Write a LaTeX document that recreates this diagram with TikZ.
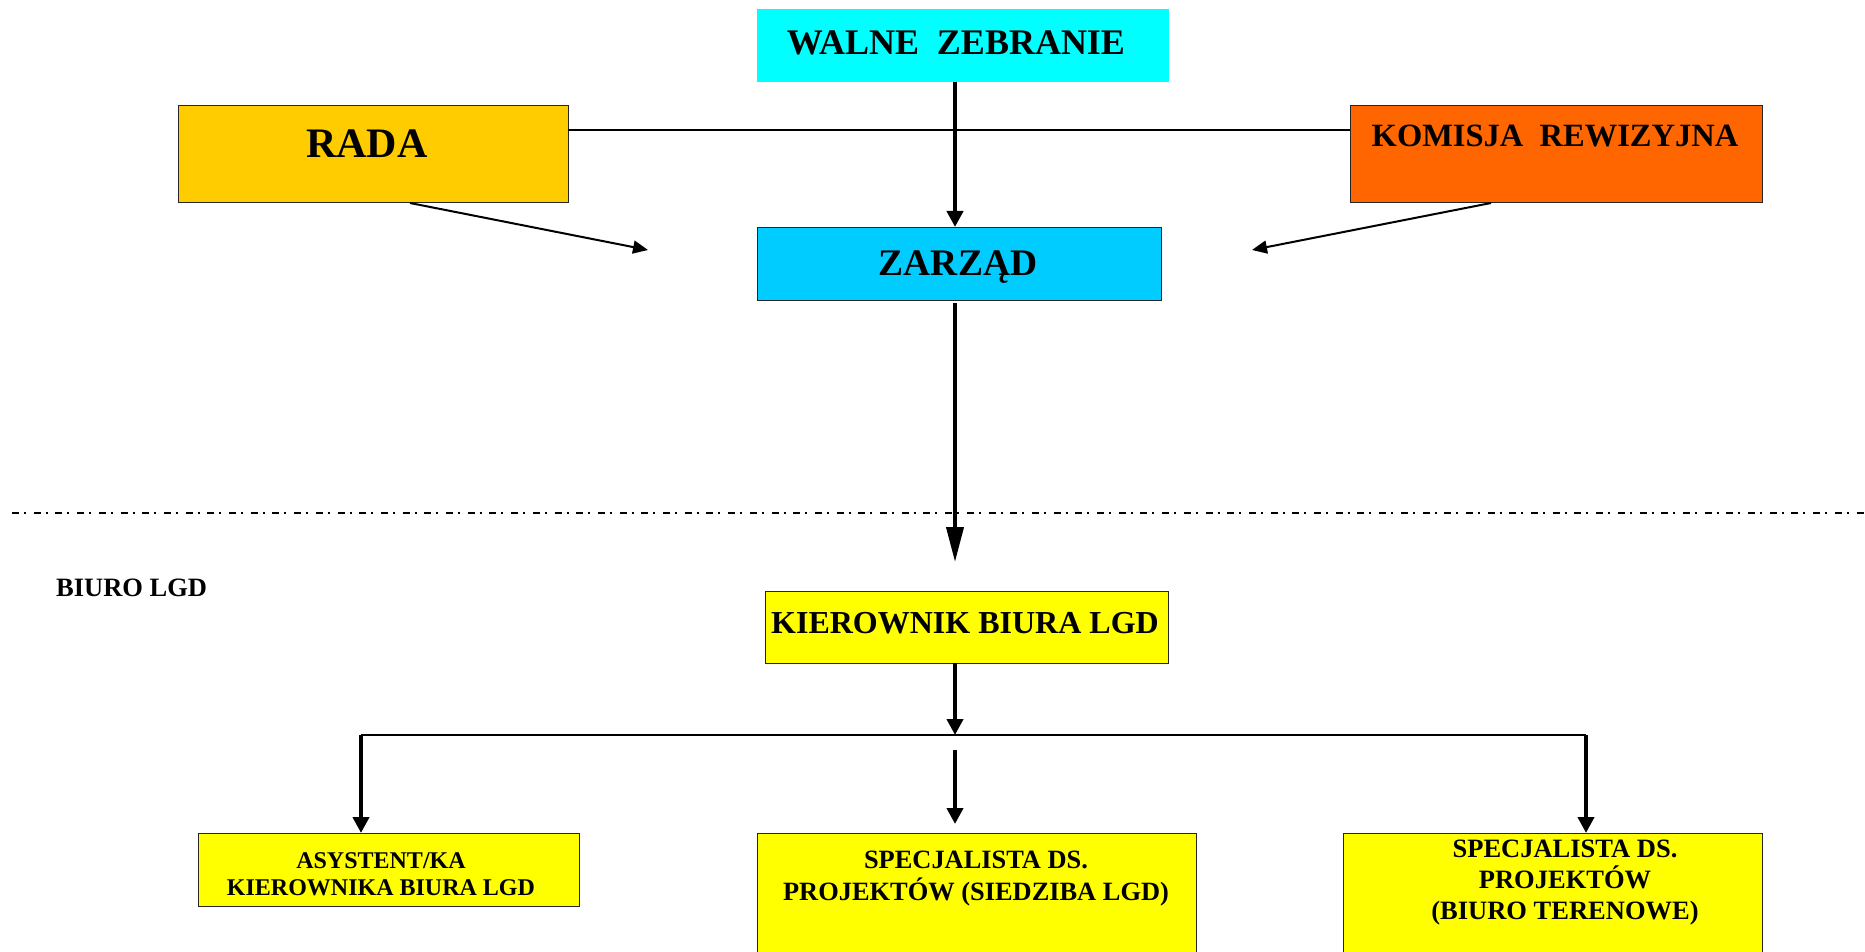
\documentclass[tikz,border=0pt]{standalone}
\usepackage{fontspec}
\setmainfont{Liberation Serif}
\usetikzlibrary{arrows.meta}
\definecolor{walnec}{HTML}{00FFFF}
\definecolor{zarzadc}{HTML}{00CCFF}
\definecolor{radac}{HTML}{FFCC00}
\definecolor{komisjac}{HTML}{FF6600}
\definecolor{biuroc}{HTML}{FFFF00}
\begin{document}
\begin{tikzpicture}[x=1pt,y=-1pt,
  box/.style={draw=black!85, line width=1pt, inner sep=0pt, outer sep=0pt, rectangle},
  lbl/.style={inner sep=0pt, anchor=base, text=black},
  thickarr/.style={line width=4pt, -{Triangle[length=16pt,width=16pt]}},
  longarr/.style={line width=4pt, -{Triangle[length=35pt,width=17pt]}},
  thinarr/.style={line width=2pt, -{Triangle[length=15pt,width=13pt]}},
  thinline/.style={line width=1.2pt},
  sepline/.style={line width=2pt, dash pattern=on 7pt off 5pt on 2pt off 7.7pt},
]
\fill[white] (0,0) rectangle (1865,952);
\useasboundingbox (0,0) rectangle (1865,952);

% boxes
\node[box, draw=none, fill=walnec, minimum width=412pt, minimum height=73pt] (walne) at (963,45.5) {};
\node[box, fill=zarzadc, minimum width=404pt, minimum height=73pt] (zarzad) at (959,263.5) {};
\node[box, fill=radac, minimum width=390pt, minimum height=97pt] (rada) at (373,154.5) {};
\node[box, fill=komisjac, minimum width=412pt, minimum height=97pt] (komisja) at (1556,154.5) {};
\node[box, fill=biuroc, minimum width=403pt, minimum height=72pt] (kier) at (966.5,627) {};
\node[box, fill=biuroc, minimum width=381pt, minimum height=73pt] (asyst) at (388.5,869.5) {};
\node[box, fill=biuroc, minimum width=439pt, minimum height=130pt] (specA) at (976.5,898) {};
\node[box, fill=biuroc, minimum width=419pt, minimum height=130pt] (specB) at (1552.5,898) {};

% texts (multi-line nodes: base = last line)
\node[lbl, font=\bfseries\fontsize{36pt}{40pt}\selectfont] (walnet) at (956,55) {WALNE\ \ ZEBRANIE};
\node[lbl, font=\bfseries\fontsize{37.5pt}{40pt}\selectfont] (zarzadt) at (958,275) {ZARZĄD};
\node[lbl, font=\bfseries\fontsize{42pt}{46pt}\selectfont] (radat) at (367,158) {RADA};
\node[lbl, font=\bfseries\fontsize{32.5pt}{36pt}\selectfont] (komisjat) at (1555,147) {KOMISJA\ \ REWIZYJNA};
\node[lbl, anchor=base west, font=\bfseries\fontsize{26.5pt}{30pt}\selectfont] (biurot) at (56,596) {BIURO LGD};
\node[lbl, font=\bfseries\fontsize{32pt}{36pt}\selectfont] (kiert) at (965,633) {KIEROWNIK BIURA LGD};
\node[lbl, align=center, font=\bfseries\fontsize{24pt}{27pt}\selectfont] (asystt) at (381,895) {ASYSTENT/KA\\KIEROWNIKA BIURA LGD};
\node[lbl, align=center, font=\bfseries\fontsize{26.4pt}{32pt}\selectfont] (specAt) at (976,900) {SPECJALISTA DS.\\PROJEKTÓW (SIEDZIBA LGD)};
\node[lbl, align=center, font=\bfseries\fontsize{26.5pt}{31pt}\selectfont] (specBt) at (1565,919) {SPECJALISTA DS.\\PROJEKTÓW\\(BIURO TERENOWE)};

% helper coordinates
\coordinate (axis) at (955,0);
\coordinate (busL) at (361,735);
\coordinate (busM) at (955,735);
\coordinate (busR) at (1586,735);
\coordinate (radatip) at (648,250);
\coordinate (komtip) at (1252,250);
\coordinate (sepL) at (12,513);
\coordinate (sepR) at (1865,513);

% connectors
\draw[thinline] ([yshift=24.5pt]rada.east) -- ([yshift=24.5pt]komisja.west);
\draw[thickarr] (walne.south -| axis) -- (zarzad.north -| axis);
\draw[thinarr] ([xshift=37pt]rada.south) -- (radatip);
\draw[thinarr] ([xshift=-65pt]komisja.south) -- (komtip);
\draw[sepline] (sepL) -- (sepR);
\draw[longarr, shorten <=3pt, shorten >=29pt] (zarzad.south -| axis) -- (kier.north -| axis);
\draw[thickarr] (kier.south -| axis) -- (busM);
\draw[thinline] (busL) -- (busR);
\draw[thickarr] (busL) -- (asyst.north -| busL);
\draw[thickarr, shorten <=15pt, shorten >=9pt] (busM) -- (specA.north -| busM);
\draw[thickarr] (busR) -- (specB.north -| busR);
\end{tikzpicture}
\end{document}
